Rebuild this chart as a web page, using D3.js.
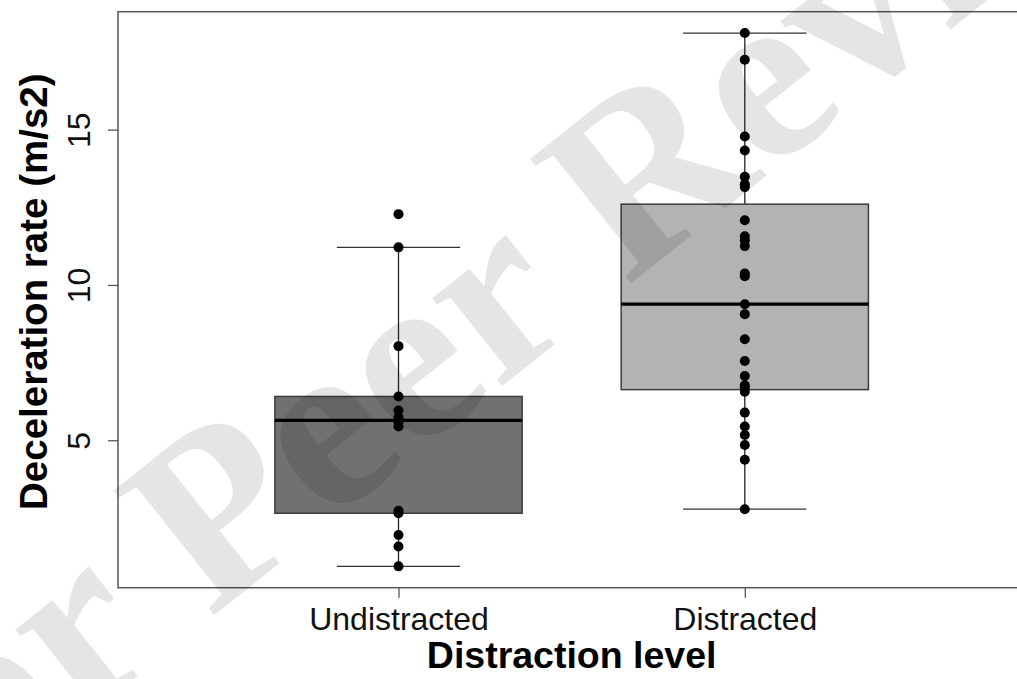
<!DOCTYPE html>
<html>
<head>
<meta charset="utf-8">
<script src="https://cdn.jsdelivr.net/npm/d3@7"></script>
<style>
  html, body { margin: 0; padding: 0; background: #fff; }
  svg { display: block; }
  text { font-family: "Liberation Sans", Arial, Helvetica, sans-serif; }
</style>
</head>
<body>
<svg id="chart" width="1017" height="679"></svg>
<script>
// Groups along the x axis
const categories = ["Undistracted", "Distracted"];
const boxFills = ["#717171", "#b3b3b3"];

// Individual observations (m/s2)
const undistractedValues = [12.28, 11.21, 8.03, 6.41, 5.96, 5.73, 5.64, 5.58, 5.44, 2.73, 2.65, 1.95, 1.58, 0.94];
const distractedValues = [18.11, 17.25, 14.78, 14.33, 13.48, 13.24, 13.15, 12.08, 11.57, 11.44, 11.25,
  10.37, 10.28, 9.38, 9.06, 8.25, 7.55, 7.07, 6.77, 6.70, 6.56, 5.89, 5.44, 5.17, 4.85, 4.37, 2.78];

// Box statistics per group: lower whisker, lower hinge, median, upper hinge, upper whisker
const whiskerLow = [0.94, 2.78];
const hingeLow = [2.65, 6.63];
const medians = [5.64, 9.38];
const hingeHigh = [6.41, 12.60];
const whiskerHigh = [11.21, 18.11];

const yTicks = [5, 10, 15];
const xTitle = "Distraction level";
const yTitle = "Deceleration rate (m/s2)";
const watermark = "For Peer Review";

const valuesByGroup = [undistractedValues, distractedValues];

const svg = d3.select("#chart");
const plot = { left: 118, top: 11.7, bottom: 587.7 };
const unit = 346.3;
const xDomain = [0.19, 2.81];

const x = d3.scaleLinear()
  .domain(xDomain)
  .range([plot.left, plot.left + (xDomain[1] - xDomain[0]) * unit]);
const y = d3.scaleLinear()
  .domain([0.253, 18.797])
  .range([plot.bottom, plot.top]);

const boxHalf = 0.357;
const stapleHalf = 0.178;

const groups = svg.append("g").selectAll("g")
  .data(categories.map((c, i) => ({
    name: c, pos: i + 1, fill: boxFills[i],
    lo: whiskerLow[i], q1: hingeLow[i], med: medians[i], q3: hingeHigh[i], hi: whiskerHigh[i],
    values: valuesByGroup[i]
  })))
  .join("g");

// whisker stems
groups.append("line")
  .attr("x1", d => x(d.pos)).attr("x2", d => x(d.pos))
  .attr("y1", d => y(d.q3)).attr("y2", d => y(d.hi))
  .attr("stroke", "#222").attr("stroke-width", 1.3);
groups.append("line")
  .attr("x1", d => x(d.pos)).attr("x2", d => x(d.pos))
  .attr("y1", d => y(d.q1)).attr("y2", d => y(d.lo))
  .attr("stroke", "#222").attr("stroke-width", 1.3);

// staples
groups.selectAll("line.staple")
  .data(d => [d.lo, d.hi].map(v => ({ pos: d.pos, v })))
  .join("line")
  .attr("class", "staple")
  .attr("x1", d => x(d.pos - stapleHalf)).attr("x2", d => x(d.pos + stapleHalf))
  .attr("y1", d => y(d.v)).attr("y2", d => y(d.v))
  .attr("stroke", "#333").attr("stroke-width", 1.3);

// boxes
groups.append("rect")
  .attr("x", d => x(d.pos - boxHalf))
  .attr("width", d => x(d.pos + boxHalf) - x(d.pos - boxHalf))
  .attr("y", d => y(d.q3))
  .attr("height", d => y(d.q1) - y(d.q3))
  .attr("fill", d => d.fill)
  .attr("stroke", "#3c3c3c").attr("stroke-width", 1.5);

// medians
groups.append("line")
  .attr("x1", d => x(d.pos - boxHalf)).attr("x2", d => x(d.pos + boxHalf))
  .attr("y1", d => y(d.med)).attr("y2", d => y(d.med))
  .attr("stroke", "#000").attr("stroke-width", 3.2);

// points
groups.selectAll("circle")
  .data(d => d.values.map(v => ({ pos: d.pos, v })))
  .join("circle")
  .attr("cx", d => x(d.pos))
  .attr("cy", d => y(d.v))
  .attr("r", 5)
  .attr("fill", "#000");

// frame (right side falls outside the view)
svg.append("rect")
  .attr("x", plot.left).attr("y", plot.top)
  .attr("width", x(xDomain[1]) - plot.left)
  .attr("height", plot.bottom - plot.top)
  .attr("fill", "none").attr("stroke", "#555").attr("stroke-width", 1.5);

// y axis
const yAxis = svg.append("g")
  .attr("transform", `translate(${plot.left},0)`)
  .call(d3.axisLeft(y).tickValues(yTicks).tickSize(10).tickSizeOuter(0).tickFormat(d3.format("d")));
yAxis.select(".domain").remove();
yAxis.selectAll(".tick line").attr("stroke", "#555").attr("stroke-width", 1.3);
yAxis.selectAll(".tick text")
  .attr("transform", "rotate(-90)")
  .attr("x", 0).attr("y", -28).attr("dy", 0)
  .attr("text-anchor", "middle")
  .attr("fill", "#111")
  .style("font-size", "32px")
  .style("font-family", "'Liberation Sans', Arial, sans-serif");

// x axis
const xAxis = svg.append("g")
  .attr("transform", `translate(0,${plot.bottom})`)
  .call(d3.axisBottom(x).tickValues([1, 2]).tickSize(10).tickSizeOuter(0)
    .tickFormat(d => categories[d - 1]));
xAxis.select(".domain").remove();
xAxis.selectAll(".tick text")
  .attr("y", 42).attr("dy", 0)
  .attr("fill", "#111")
  .style("font-size", "32px")
  .style("font-family", "'Liberation Sans', Arial, sans-serif");
xAxis.selectAll(".tick line").attr("stroke", "#555").attr("stroke-width", 1.3);

// axis titles
svg.append("text")
  .attr("x", (x(1) + x(2)) / 2).attr("y", 668)
  .attr("text-anchor", "middle")
  .style("font-size", "37.5px").style("font-weight", "bold")
  .attr("fill", "#000")
  .text(xTitle);
svg.append("text")
  .attr("transform", `translate(47,${(plot.top + plot.bottom) / 2 - 8}) rotate(-90)`)
  .attr("text-anchor", "middle")
  .style("font-size", "38.5px").style("font-weight", "bold")
  .attr("fill", "#000")
  .text(yTitle);

// translucent diagonal stamp across the page
svg.append("text")
  .attr("transform", "translate(545,352) rotate(-38.5)")
  .attr("text-anchor", "middle")
  .style("font-family", "'Liberation Serif', 'Times New Roman', serif")
  .style("font-weight", "bold")
  .style("font-size", "245px")
  .attr("fill", "#000")
  .attr("fill-opacity", 0.1)
  .text(watermark);
</script>
</body>
</html>
